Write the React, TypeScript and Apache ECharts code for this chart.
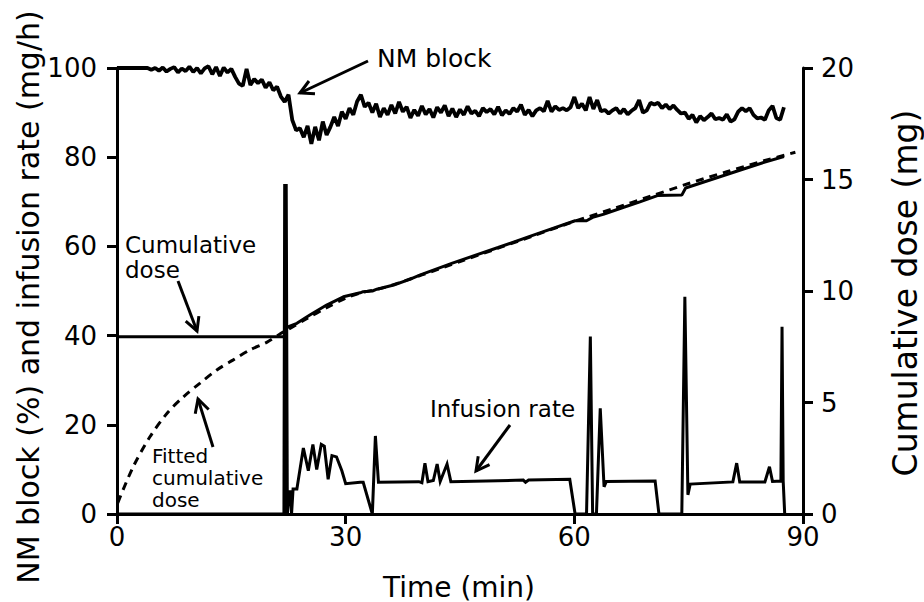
import React, { useEffect, useRef } from "react";
import * as echarts from "echarts";

// ---- axes ----
const xTicks = [0, 30, 60, 90];
const leftTicks = [0, 20, 40, 60, 80, 100];
const rightTicks = [0, 5, 10, 15, 20];

// ---- NM block (%), sampled every 0.5 min from t = 0 ----
const nmStart = 0;
const nmStep = 0.5;
const nmBlock = [
  100, 100, 100, 100, 100, 100, 100, 100, 100,
  99.6, 100, 99.4, 100.1, 99.2, 99.8, 100.2, 99.0, 99.9, 99.3, 100.3, 99.1, 100.0, 98.8, 99.9, 100.4, 98.6, 100.2, 98.2, 100.1, 99.0, 99.8,
  98.0, 96.5, 96.0, 99.8, 96.2, 97.5, 96.6, 97.4, 95.6, 96.8, 95.0, 95.8, 93.6, 92.4,
  94.0, 88.3, 86.0, 86.5, 84.5, 87.0, 83.0, 86.8, 83.8, 88.0, 85.0, 86.8, 89.0, 87.0, 90.2, 88.6, 91.0, 89.5, 92.5, 94.0,
  91.3, 92.2, 90.0, 92.0, 89.0, 91.0, 89.5, 91.7, 89.8, 92.4, 90.2, 91.3, 88.8, 90.6, 89.3, 91.5, 89.6, 90.8,
  88.9, 91.2, 90.0, 91.6, 89.2, 90.9, 89.0, 90.7, 89.5, 91.4, 89.8, 90.4, 89.2, 91.0, 90.1, 90.8, 89.6, 91.3,
  89.4, 90.5, 89.7, 91.0, 90.2, 91.8, 89.5, 90.6, 89.2, 90.5, 91.0, 90.3, 92.6, 90.2, 91.4, 90.6,
  91.0, 90.5, 91.2, 93.5, 91.0, 92.0, 90.5, 93.5, 90.8, 92.8,
  90.3, 90.6, 89.8, 90.5, 91.0, 89.8, 90.8, 89.6, 90.4, 91.0,
  92.8, 90.0, 90.5, 92.2, 91.8, 92.2, 91.0, 91.8, 90.8, 91.6,
  90.6, 89.8, 90.0, 88.6, 89.5, 87.8, 89.2, 88.3, 89.0, 89.8,
  88.5, 88.8, 88.4, 89.6, 88.0, 88.5, 90.2, 91.0, 90.3, 91.0,
  89.5, 88.7, 88.9, 88.4, 90.5, 91.5, 88.8, 88.4, 91.2,
];

// ---- infusion rate (mg/h) ----
const infusionTime = [
  0, 21.9, 22.0, 22.1, 22.2, 22.35, 22.6, 22.75, 22.9, 23.1, 23.6, 24.45, 25.1, 25.7, 26.2, 26.8, 27.2, 27.7, 28.2, 28.8,
  29.5, 30.0, 31.9, 32.3, 33.5, 33.9, 34.3, 39.6, 40.0, 40.4, 40.8, 41.5, 42.0, 42.4, 43.3, 43.8, 53.3, 53.6, 54.0, 59.4,
  60.1, 61.6, 62.1, 62.4, 62.9, 63.4, 63.9, 64.2, 70.6, 71.1, 74.1, 74.5, 74.9, 75.2, 80.8, 81.3, 81.7, 85.0, 85.6, 86.0,
  87.1, 87.25, 87.4, 87.6,
];
const infusionRate = [
  0, 0, 74, 0, 74, 0, 5, 5, 0, 5.6, 5.6, 14.8, 9.7, 15.6, 10, 15.6, 15.2, 7.8, 13.1, 12.8,
  9.7, 6.8, 7.1, 7.1, 0, 17.5, 7.1, 7.25, 7.0, 11.4, 7.25, 7.5, 11.2, 7.3, 11.2, 7.25, 7.6, 7.1, 7.6, 7.8,
  0, 0, 39.8, 0, 0, 23.7, 6.1, 7.3, 7.4, 0, 0, 48.7, 4.3, 6.7, 7.2, 11.4, 7.2, 7.2, 10.6, 7.3,
  7.4, 42, 7.4, 0,
];

// ---- cumulative dose (mg) ----
const cumTime = [0, 21.9, 22.3, 22.5, 23.6, 25.3, 27.5, 29.7, 31.9, 32.3, 33.5, 34.1, 36.3, 38.4, 39.8, 44, 50, 55, 60.1, 61.6, 62.4, 63.9, 66, 68.6, 70.9, 74.1, 74.6, 78, 82, 85, 87.5];
const cumDose = [7.95, 7.95, 8.35, 8.4, 8.55, 8.92, 9.37, 9.74, 9.92, 9.97, 10.0, 10.08, 10.27, 10.52, 10.72, 11.25, 11.95, 12.55, 13.15, 13.15, 13.3, 13.45, 13.7, 14.0, 14.28, 14.3, 14.62, 15.0, 15.45, 15.78, 16.03];

// ---- fitted cumulative dose (mg) ----
const fitTime = [0.1, 2.1, 4.3, 6.6, 8.7, 10.9, 13.1, 15.2, 17.4, 19.7, 21.8, 22.5, 25, 27.5, 30, 32, 35, 40, 45, 50, 55, 60, 65, 70, 75, 80, 85, 89];
const fitDose = [0.5, 2.1, 3.45, 4.53, 5.25, 5.87, 6.46, 6.9, 7.35, 7.71, 8.16, 8.28, 8.78, 9.25, 9.68, 9.92, 10.15, 10.72, 11.32, 11.92, 12.52, 13.12, 13.68, 14.25, 14.82, 15.35, 15.85, 16.22];

const FONT = "'DejaVu Sans', 'Liberation Sans', sans-serif";

const zip = (xs: number[], ys: number[]) => xs.map((x, i) => [x, ys[i]]);

function arrow(from: number[], to: number[]) {
  const ang = Math.atan2(from[1] - to[1], from[0] - to[0]);
  const L = 15;
  const a = (28 * Math.PI) / 180;
  const w1 = [to[0] + L * Math.cos(ang + a), to[1] + L * Math.sin(ang + a)];
  const w2 = [to[0] + L * Math.cos(ang - a), to[1] + L * Math.sin(ang - a)];
  return [
    { type: "line", z: 100, shape: { x1: from[0], y1: from[1], x2: to[0], y2: to[1] }, style: { stroke: "#000", lineWidth: 3 } },
    { type: "polyline", z: 100, shape: { points: [w1, to, w2] }, style: { stroke: "#000", lineWidth: 3, fill: null } },
  ];
}

function label(text: string, x: number, y: number, size: number, extra: any = {}) {
  const { align, lineHeight, ...rest } = extra;
  return {
    type: "text",
    z: 100,
    x,
    y,
    ...rest,
    style: {
      text,
      fontSize: size,
      fontFamily: FONT,
      fill: "#000",
      align: align || "left",
      verticalAlign: "middle",
      ...(lineHeight ? { lineHeight } : {}),
    },
  };
}

export default function App() {
  const ref = useRef<HTMLDivElement>(null);
  useEffect(() => {
    document.body.style.margin = "0";
    const chart = echarts.init(ref.current!, null, { renderer: "svg" });
    const nmData = nmBlock.map((v, i) => [nmStart + i * nmStep, v]);
    const axisLine = { show: true, lineStyle: { color: "#000", width: 3 } };
    const axisTick = { show: true, inside: false, length: 10, lineStyle: { color: "#000", width: 3 } };
    const lab = (margin: number) => ({ fontSize: 26, fontFamily: FONT, color: "#000", margin });
    chart.setOption({
      animation: false,
      backgroundColor: "#fff",
      grid: { left: 117, right: 121, top: 68, bottom: 88 },
      xAxis: {
        type: "value",
        min: xTicks[0],
        max: xTicks[xTicks.length - 1],
        interval: xTicks[1] - xTicks[0],
        axisLine,
        axisTick,
        splitLine: { show: false },
        axisLabel: lab(10),
      },
      yAxis: [
        {
          type: "value",
          position: "left",
          min: leftTicks[0],
          max: leftTicks[leftTicks.length - 1],
          interval: leftTicks[1] - leftTicks[0],
          axisLine,
          axisTick,
          splitLine: { show: false },
          axisLabel: lab(20),
        },
        {
          type: "value",
          position: "right",
          min: rightTicks[0],
          max: rightTicks[rightTicks.length - 1],
          interval: rightTicks[1] - rightTicks[0],
          axisLine,
          axisTick,
          splitLine: { show: false },
          axisLabel: lab(18),
        },
      ],
      series: [
        {
          name: "Fitted cumulative dose",
          type: "line",
          yAxisIndex: 1,
          data: zip(fitTime, fitDose),
          smooth: 0.3,
          showSymbol: false,
          clip: false,
          lineStyle: { color: "#000", width: 3, type: [8, 6] },
        },
        {
          name: "Cumulative dose",
          type: "line",
          yAxisIndex: 1,
          data: zip(cumTime, cumDose),
          showSymbol: false,
          clip: false,
          lineStyle: { color: "#000", width: 3 },
        },
        {
          name: "Infusion rate",
          type: "line",
          yAxisIndex: 0,
          data: zip(infusionTime, infusionRate),
          showSymbol: false,
          clip: false,
          lineStyle: { color: "#000", width: 3, join: "miter" },
        },
        {
          name: "NM block",
          type: "line",
          yAxisIndex: 0,
          data: nmData,
          showSymbol: false,
          clip: false,
          lineStyle: { color: "#000", width: 3.8 },
        },
      ],
      graphic: [
        label("NM block (%) and infusion rate (mg/h)", 28, 297, 30, { rotation: Math.PI / 2, align: "center" }),
        label("Cumulative dose (mg)", 905, 293, 33, { rotation: Math.PI / 2, align: "center" }),
        label("Time (min)", 459, 587, 28, { align: "center" }),
        label("NM block", 377, 58, 25),
        label("Cumulative\ndose", 125, 257, 23, { lineHeight: 25 }),
        label("Fitted\ncumulative\ndose", 152, 478, 20, { lineHeight: 22 }),
        label("Infusion rate", 430, 409, 23),
        ...arrow([368, 61], [300, 93]),
        ...arrow([178, 281], [197, 331]),
        ...arrow([213, 447], [198, 399]),
        ...arrow([510, 425], [476, 471]),
      ],
    });
    return () => chart.dispose();
  }, []);
  return <div ref={ref} style={{ position: "absolute", left: 0, top: 0, width: 924, height: 602 }} />;
}
